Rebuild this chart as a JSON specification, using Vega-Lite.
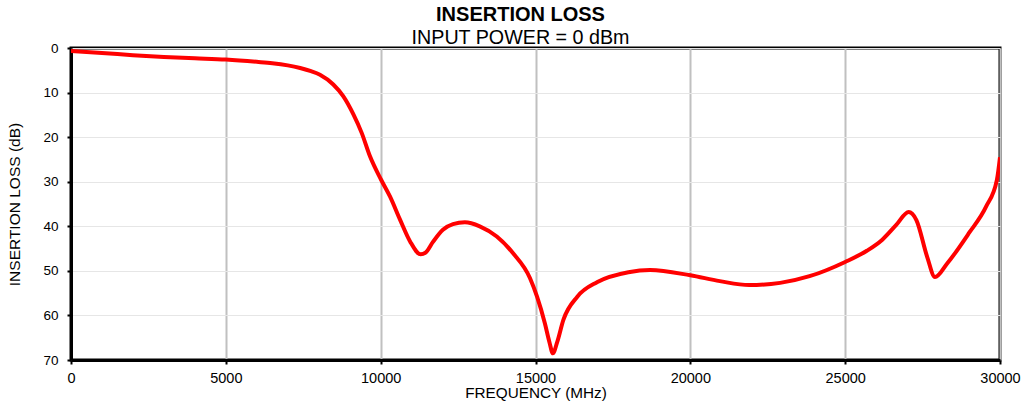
{
  "$schema": "https://vega.github.io/schema/vega-lite/v6.json",
  "width": 929,
  "height": 312,
  "autosize": "none",
  "padding": {"left": 71, "top": 48, "right": 24, "bottom": 44},
  "background": "white",
  "config": {
    "font": "Liberation Sans",
    "view": {"stroke": "black", "strokeWidth": 3}
  },
  "title": {
    "text": "INSERTION LOSS",
    "subtitle": "INPUT POWER = 0 dBm",
    "font": "Liberation Sans",
    "subtitleFont": "Liberation Sans",
    "fontSize": 20,
    "subtitleFontSize": 19.7,
    "fontWeight": "bold",
    "color": "black",
    "subtitleColor": "black",
    "anchor": "middle",
    "dx": -15,
    "dy": 9,
    "offset": 2,
    "subtitlePadding": 3
  },
  "data": {
    "values": [
      {"f": 0, "loss": 0.7}, {"f": 1000, "loss": 1.1}, {"f": 2000, "loss": 1.6}, {"f": 3000, "loss": 2.0},
      {"f": 4000, "loss": 2.3}, {"f": 5000, "loss": 2.6}, {"f": 6000, "loss": 3.1}, {"f": 6500, "loss": 3.4},
      {"f": 7000, "loss": 3.9}, {"f": 7400, "loss": 4.5}, {"f": 7750, "loss": 5.2}, {"f": 8040, "loss": 6.0},
      {"f": 8470, "loss": 8.2}, {"f": 8790, "loss": 10.8}, {"f": 9120, "loss": 14.9}, {"f": 9390, "loss": 19.1},
      {"f": 9655, "loss": 24.3}, {"f": 10010, "loss": 29.5}, {"f": 10300, "loss": 33.3}, {"f": 10625, "loss": 38.5},
      {"f": 10950, "loss": 43.4}, {"f": 11290, "loss": 46.3}, {"f": 11450, "loss": 45.9}, {"f": 11690, "loss": 43.5},
      {"f": 12010, "loss": 40.8}, {"f": 12335, "loss": 39.5}, {"f": 12720, "loss": 39.1}, {"f": 13200, "loss": 40.0},
      {"f": 13750, "loss": 42.3}, {"f": 14270, "loss": 46.0}, {"f": 14820, "loss": 51.6}, {"f": 15050, "loss": 55.8},
      {"f": 15300, "loss": 61.7}, {"f": 15450, "loss": 66}, {"f": 15560, "loss": 68.5},
      {"f": 15700, "loss": 66}, {"f": 15900, "loss": 61}, {"f": 16350, "loss": 55.8}, {"f": 17000, "loss": 52.5},
      {"f": 18000, "loss": 50.3}, {"f": 18700, "loss": 49.8}, {"f": 20000, "loss": 51}, {"f": 20950, "loss": 52.3},
      {"f": 21900, "loss": 53.2}, {"f": 22900, "loss": 52.7}, {"f": 23850, "loss": 51.2}, {"f": 25000, "loss": 48},
      {"f": 25700, "loss": 45.5}, {"f": 26200, "loss": 43}, {"f": 26650, "loss": 39.7}, {"f": 27050, "loss": 36.8},
      {"f": 27300, "loss": 38.6}, {"f": 27650, "loss": 46.9}, {"f": 27900, "loss": 51.4}, {"f": 28300, "loss": 48.3},
      {"f": 29000, "loss": 41.5}, {"f": 29550, "loss": 35.6}, {"f": 29900, "loss": 29.6}, {"f": 30000, "loss": 24.5}
    ]
  },
  "mark": {"type": "line", "color": "#ff0000", "strokeWidth": 4, "interpolate": "monotone", "clip": true},
  "encoding": {
    "x": {
      "field": "f",
      "type": "quantitative",
      "scale": {"domain": [0, 30000], "nice": false},
      "axis": {
        "title": "FREQUENCY (MHz)",
        "values": [0, 5000, 10000, 15000, 20000, 25000, 30000],
        "format": "d",
        "labelFont": "Liberation Sans",
        "labelFontSize": 14.5,
        "labelColor": "black",
        "labelPadding": 7,
        "labelFlush": false,
        "titleFont": "Liberation Sans",
        "titleFontSize": 15.3,
        "titleFontWeight": "normal",
        "titleColor": "black",
        "titlePadding": 1,
        "tickColor": "black",
        "tickSize": 4,
        "tickWidth": 2,
        "domainColor": "black",
        "domainWidth": 3,
        "grid": true,
        "gridColor": "#c0c0c0",
        "gridWidth": 2
      }
    },
    "y": {
      "field": "loss",
      "type": "quantitative",
      "scale": {"domain": [0, 70], "reverse": true, "nice": false},
      "axis": {
        "title": "INSERTION LOSS (dB)",
        "values": [0, 10, 20, 30, 40, 50, 60, 70],
        "labelFont": "Liberation Sans",
        "labelFontSize": 13.5,
        "labelColor": "black",
        "labelPadding": 9,
        "labelFlush": false,
        "titleFont": "Liberation Sans",
        "titleFontSize": 15.5,
        "titleFontWeight": "normal",
        "titleColor": "black",
        "titlePadding": 20,
        "tickColor": "black",
        "tickSize": 4,
        "tickWidth": 2,
        "domainColor": "black",
        "domainWidth": 3,
        "grid": true,
        "gridColor": "#e6e6e6",
        "gridWidth": 1
      }
    }
  }
}
